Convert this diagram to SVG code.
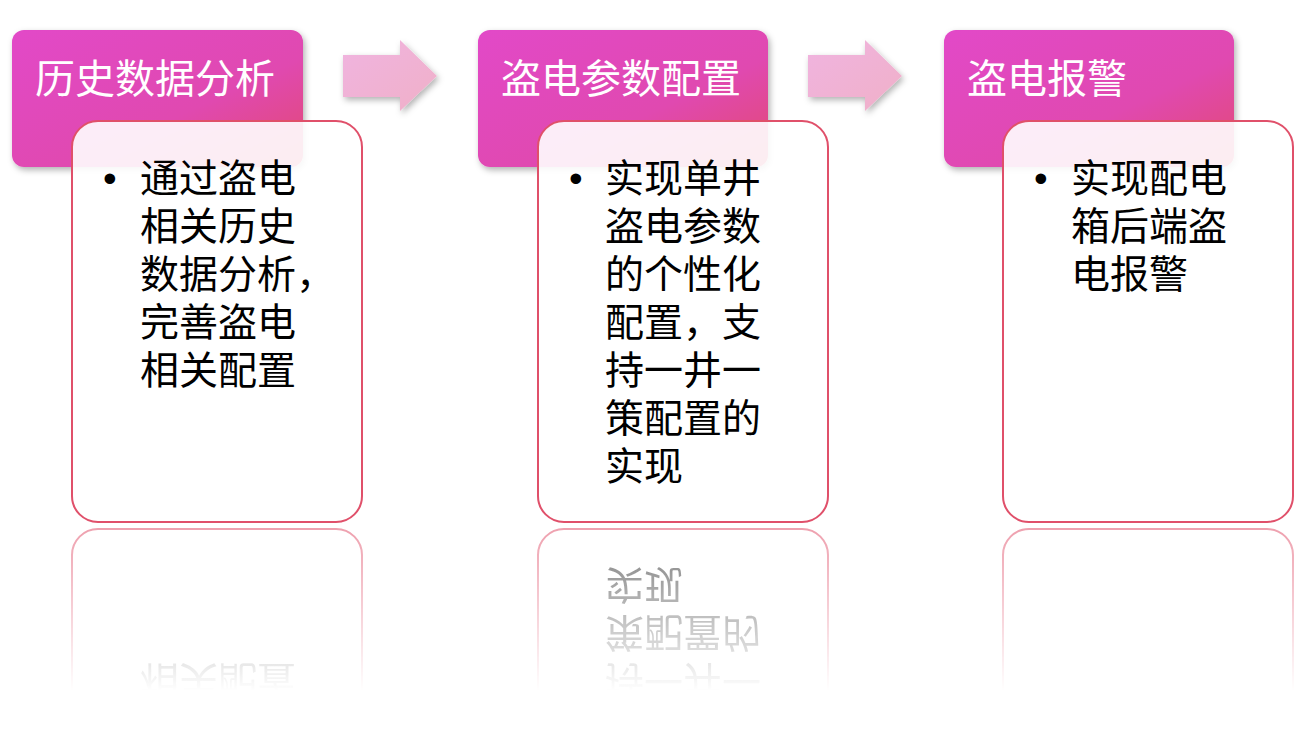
<svg xmlns="http://www.w3.org/2000/svg" xmlns:xlink="http://www.w3.org/1999/xlink" width="1313" height="730" viewBox="0 0 1313 730">
<style>
.h{font-family:"Liberation Sans","Noto Sans CJK SC",sans-serif;font-size:40px;fill:#fff}
.t{font-family:"Liberation Sans","Noto Sans CJK SC",sans-serif;font-size:39px;fill:#000}
.b{fill:#fff;fill-opacity:0.9;stroke:#e0506a;stroke-width:2}
</style>
<defs>
<linearGradient id="hg" x1="0" y1="0" x2="1" y2="1"><stop offset="0" stop-color="#e24ac8"/><stop offset="0.6" stop-color="#e04ab0"/><stop offset="1" stop-color="#e24a70"/></linearGradient>
<linearGradient id="ag" x1="0" y1="0" x2="1" y2="1"><stop offset="0" stop-color="#f0b4e0"/><stop offset="1" stop-color="#f0b0c8"/></linearGradient>
<linearGradient id="fade" x1="0" y1="0" x2="0" y2="1"><stop offset="0" stop-color="#fff" stop-opacity="0.55"/><stop offset="1" stop-color="#fff" stop-opacity="0"/></linearGradient>
<mask id="rm" maskUnits="userSpaceOnUse" x="0" y="526" width="1313" height="165"><rect x="0" y="526" width="1313" height="165" fill="url(#fade)"/></mask>
<filter id="sh" x="-10%" y="-10%" width="125%" height="130%"><feDropShadow dx="2" dy="3" stdDeviation="3" flood-color="#000" flood-opacity="0.3"/></filter>
</defs>
<g id="connectors">
<path d="M343 55H400V40L437 76L400 111V97H343Z" fill="url(#ag)" filter="url(#sh)"/>
<path d="M808 55H865V40L902 76L865 111V97H808Z" fill="url(#ag)" filter="url(#sh)"/>
</g>
<g id="head1"><rect x="12" y="30" width="291" height="137" rx="12" fill="url(#hg)" filter="url(#sh)"/><text class="h" x="35" y="93">历史数据分析</text></g>
<g id="head2"><rect x="478" y="30" width="290" height="137" rx="12" fill="url(#hg)" filter="url(#sh)"/><text class="h" x="501" y="93">盗电参数配置</text></g>
<g id="head3"><rect x="944" y="30" width="290" height="137" rx="12" fill="url(#hg)" filter="url(#sh)"/><text class="h" x="967" y="93">盗电报警</text></g>
<g id="body1"><rect class="b" x="72" y="121" width="290" height="401" rx="26"/>
<text class="t" x="103" y="192">•</text>
<text class="t"><tspan x="140" y="192">通过盗电</tspan><tspan x="140" y="240">相关历史</tspan><tspan x="140" y="288">数据分析，</tspan><tspan x="140" y="336">完善盗电</tspan><tspan x="140" y="384">相关配置</tspan></text></g>
<g id="body2"><rect class="b" x="538" y="121" width="290" height="401" rx="26"/>
<text class="t" x="569" y="192">•</text>
<text class="t"><tspan x="605" y="192">实现单井</tspan><tspan x="605" y="240">盗电参数</tspan><tspan x="605" y="288">的个性化</tspan><tspan x="605" y="336">配置，支</tspan><tspan x="605" y="384">持一井一</tspan><tspan x="605" y="432">策配置的</tspan><tspan x="605" y="480">实现</tspan></text></g>
<g id="body3"><rect class="b" x="1003" y="121" width="290" height="401" rx="26"/>
<text class="t" x="1034" y="192">•</text>
<text class="t"><tspan x="1071" y="192">实现配电</tspan><tspan x="1071" y="240">箱后端盗</tspan><tspan x="1071" y="288">电报警</tspan></text></g>
<g id="reflection" mask="url(#rm)">
<g transform="translate(0,1051) scale(1,-1)">
<use xlink:href="#body1"/><use xlink:href="#body2"/><use xlink:href="#body3"/>
</g>
</g>
</svg>
